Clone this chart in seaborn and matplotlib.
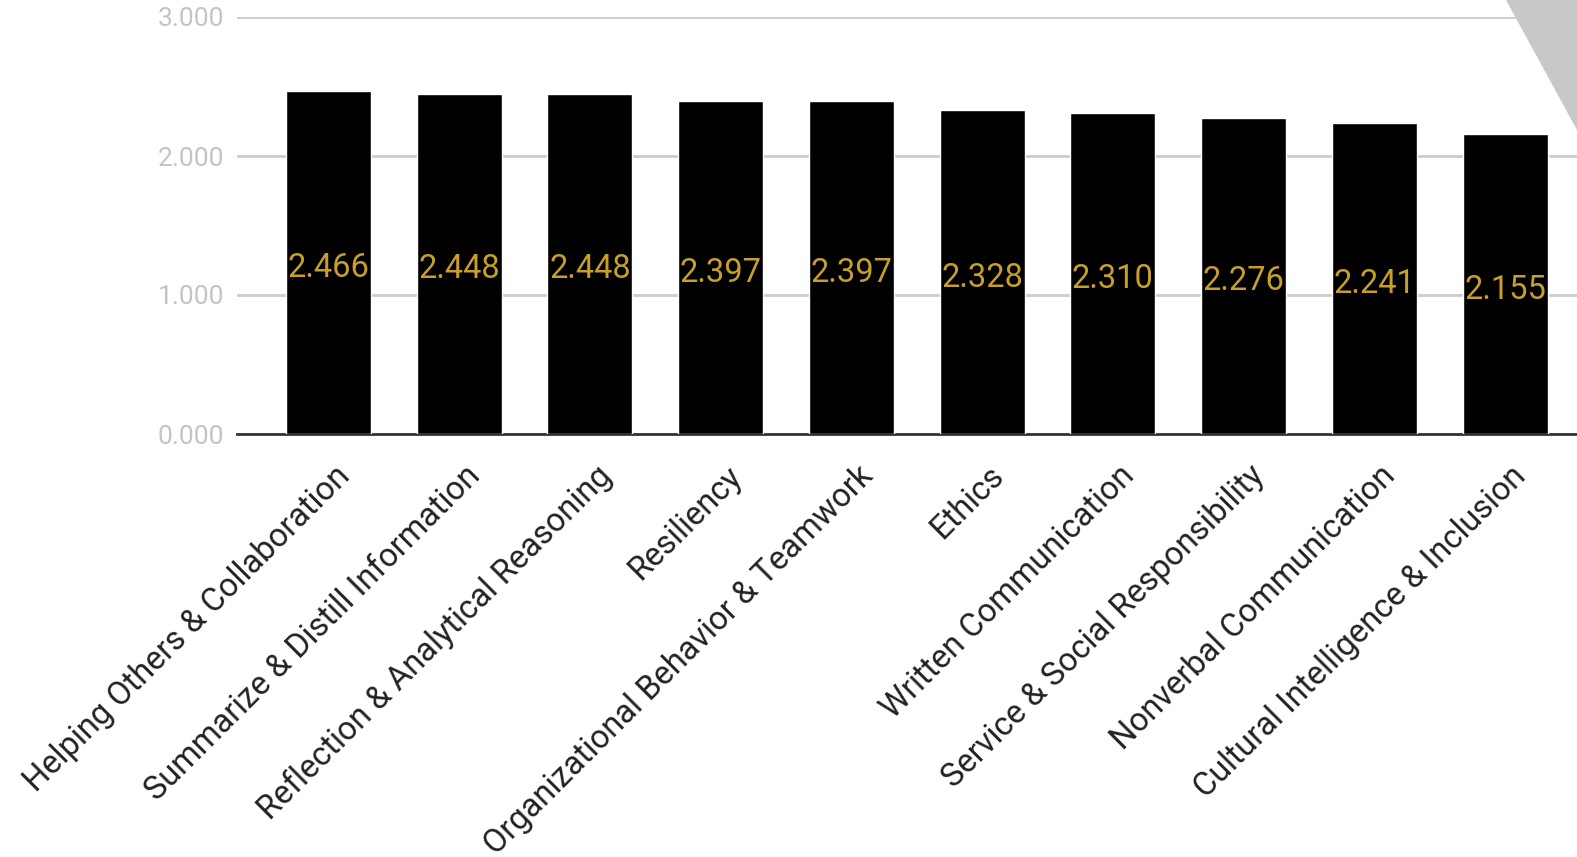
import matplotlib
matplotlib.use("Agg")
import matplotlib.pyplot as plt
import matplotlib.transforms as mtransforms
import seaborn as sns
from matplotlib.patches import Polygon

categories = [
    "Helping Others & Collaboration",
    "Summarize & Distill Information",
    "Reflection & Analytical Reasoning",
    "Resiliency",
    "Organizational Behavior & Teamwork",
    "Ethics",
    "Written Communication",
    "Service & Social Responsibility",
    "Nonverbal Communication",
    "Cultural Intelligence & Inclusion",
]
values = [2.466, 2.448, 2.448, 2.397, 2.397, 2.328, 2.310, 2.276, 2.241, 2.155]
yticks = [0, 1, 2, 3]

sns.set_style("white")
plt.rcParams["font.family"] = ["Roboto", "DejaVu Sans"]

fig = plt.figure(figsize=(15.77, 8.57), dpi=100)
ax = fig.add_axes([237 / 1577, 1 - 434 / 857, 1 - 237 / 1577, (434 - 17) / 857])

sns.barplot(x=categories, y=values, color="black", width=0.65, ax=ax,
            saturation=1, zorder=3)

ax.set_xlim(-0.7, 9.55)
ax.set_ylim(0, 3)
ax.set_yticks(yticks)
ax.set_yticklabels([f"{v:.3f}" for v in yticks], fontsize=19, color="#c4c4c4")
ax.yaxis.grid(True, color="#cccccc", linewidth=2, zorder=0)
ax.set_axisbelow(True)
for side in ["left", "right", "top"]:
    ax.spines[side].set_visible(False)
ax.spines["bottom"].set_color("#333333")
ax.spines["bottom"].set_linewidth(2)
ax.tick_params(axis="y", length=0, pad=9)
ax.tick_params(axis="x", length=0, pad=10)
ax.set_xlabel("")
ax.set_ylabel("")

ax.set_xticks(range(len(categories)))
ax.set_xticklabels(categories, rotation=45, ha="right", va="top",
                   rotation_mode="anchor", fontsize=23.5, color="#222222")
shift = mtransforms.ScaledTranslation(0.05, -0.12, fig.dpi_scale_trans)
for lbl in ax.get_xticklabels():
    lbl.set_transform(lbl.get_transform() + shift)

for i, v in enumerate(values):
    ax.text(i, v / 2 - 0.04, f"{v:.3f}", ha="center", va="center",
            fontsize=23.5, color="#c8a028", zorder=4)

# decorative corner triangle
fig.patches.append(Polygon([(1506 / 1577, 1), (1, 1), (1, 1 - 130 / 857)],
                           closed=True, transform=fig.transFigure,
                           facecolor="#c8c8c8", edgecolor="none", zorder=5))

fig.savefig("out.png", dpi=100)
plt.close(fig)
